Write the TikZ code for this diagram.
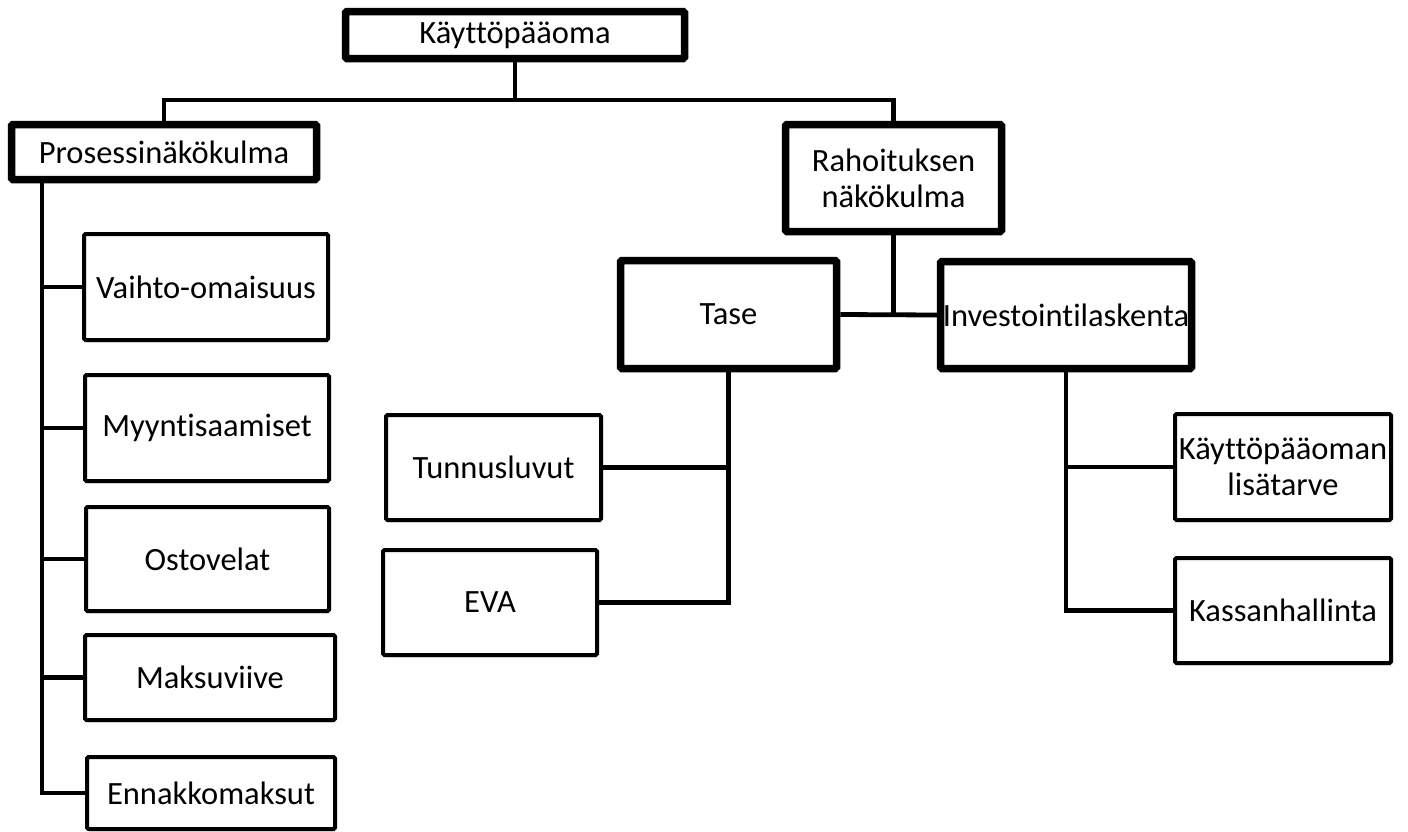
\documentclass[tikz,border=0pt]{standalone}
\usepackage{fontspec}
\setmainfont{Carlito}[Ligatures=NoCommon]
\usetikzlibrary{shadows}

\begin{document}
\begin{tikzpicture}[x=1pt, y=-1pt,
	box/.style={draw, fill=white, rounded corners=1.5pt, inner sep=0pt, align=center,
		font=\fontsize{32.5}{36}\selectfont,
		drop shadow={shadow xshift=2pt, shadow yshift=-3pt, opacity=0.13}},
	mainbox/.style={box, line width=7.5pt},
	subbox/.style={box, line width=4pt},
	conn/.style={line width=4.8pt}]
	%\draw[help lines] (0,0) grid[step=100] (1408,831);
	\useasboundingbox (0,0) rectangle (1408,831);

	% obere Ebene
	\node [mainbox, minimum width=339, minimum height=47] (kp) at (515,35) {Käyttöpääoma};
	\node [mainbox, minimum width=305, minimum height=55] (proc) at (164,152) {Prosessinäkökulma};
	\node [mainbox, minimum width=216, minimum height=107] (rah) at (893.5,178) {Rahoituksen\\näkökulma};

	% linke Spalte
	\node [subbox, minimum width=244, minimum height=106] (vaihto) at (206,287) {Vaihto-omaisuus};
	\node [subbox, minimum width=244, minimum height=106] (myynti) at (207,428) {Myyntisaamiset};
	\node [subbox, minimum width=243, minimum height=104] (osto) at (207.5,559) {Ostovelat};
	\node [subbox, minimum width=250, minimum height=85] (maksu) at (210,677.5) {Maksuviive};
	\node [subbox, minimum width=248, minimum height=72] (ennakko) at (211,793) {Ennakkomaksut};

	% Rahoitus-Zweig
	\node [mainbox, minimum width=216, minimum height=108] (tase) at (728.5,314.5) {Tase};
	\node [mainbox, minimum width=251, minimum height=107] (inv) at (1066,315) {Investointilaskenta};
	\node [subbox, minimum width=215, minimum height=105] (tunnus) at (493.5,467.5) {Tunnusluvut};
	\node [subbox, minimum width=214, minimum height=105] (eva) at (490,602.5) {EVA};
	\node [subbox, minimum width=216, minimum height=106] (lisa) at (1283,467) {Käyttöpääoman\\lisätarve};
	\node [subbox, minimum width=216, minimum height=105] (kassa) at (1283,610.5) {Kassanhallinta};

	% Verbindungen oben
	\coordinate (split) at (515,100);
	\draw [conn] (kp.south) -- (split);
	\draw [conn] (proc.north) |- (split) -| (rah.north);

	% Stamm links
	\coordinate (spine) at (42,183);
	\draw [conn] (spine) |- (ennakko.west);
	\foreach \n in {vaihto, myynti, osto, maksu}
		\draw [conn] (spine |- \n.west) -- (\n.west);

	% Tase und Investointi
	\draw [conn] (rah.south) -- (rah.south |- tase.east);
	\draw [conn] (tase.east) -- (inv.west);
	\draw [conn] (tase.south) |- (eva.east);
	\draw [conn] (tunnus.east) -- (tunnus.east -| tase.south);
	\draw [conn] (inv.south) |- (kassa.west);
	\draw [conn] (lisa.west) -- (lisa.west -| inv.south);

\end{tikzpicture}
\end{document}
